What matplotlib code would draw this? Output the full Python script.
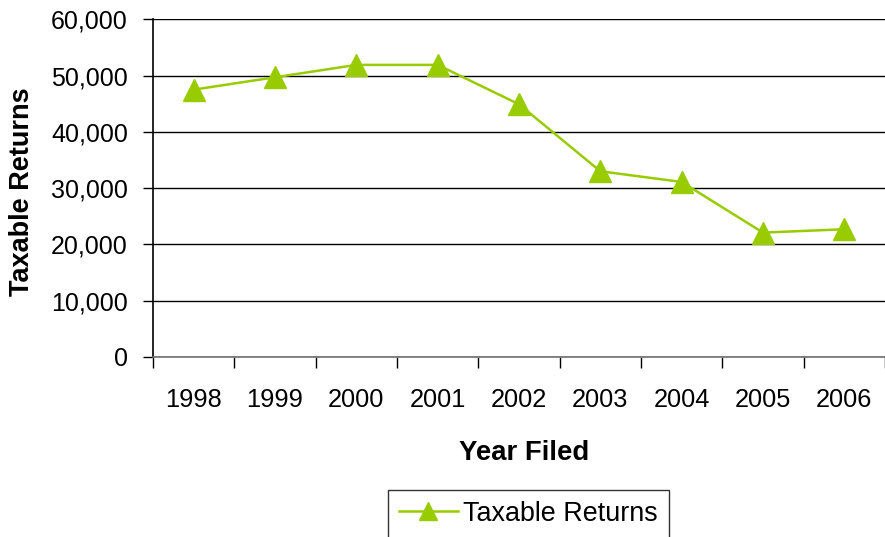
import matplotlib
matplotlib.use("Agg")
import matplotlib.pyplot as plt
from matplotlib.ticker import FuncFormatter, FixedLocator
import numpy as np

years = ["1998", "1999", "2000", "2001", "2002", "2003", "2004", "2005", "2006"]
taxable_returns = [47500, 49700, 51900, 51900, 44900, 33000, 31100, 22100, 22700]
y_ticks = [0, 10000, 20000, 30000, 40000, 50000, 60000]

plt.rcParams['font.family'] = ['Liberation Sans', 'DejaVu Sans']

W, H = 885, 537
fig = plt.figure(figsize=(W / 100, H / 100), dpi=100)
ax = fig.add_axes([153 / W, 1 - 357 / H, (W - 153) / W, (357 - 19.3) / H])

color = "#99CC00"
x = np.arange(len(years))
ax.plot(x, taxable_returns, color=color, lw=1.8, marker="^", ms=16.5,
        markeredgecolor=color, markerfacecolor=color, label="Taxable Returns",
        zorder=3, clip_on=False)

ax.set_xlim(-0.5, len(years) - 0.5)
ax.set_ylim(0, 60000)
ax.set_yticks(y_ticks)
ax.yaxis.set_major_formatter(FuncFormatter(lambda v, p: f"{int(v):,}"))
ax.grid(axis="y", color="black", lw=1.0)
ax.set_axisbelow(True)

ax.set_xticks(x)
ax.set_xticklabels(years)
ax.xaxis.set_minor_locator(FixedLocator(np.arange(-0.5, len(years), 1.0)))
ax.tick_params(axis="x", which="major", length=0, pad=22, labelsize=18.3)
ax.tick_params(axis="x", which="minor", length=8, width=1, color="black", direction="out")
ax.tick_params(axis="y", length=7, width=1, color="black", direction="out",
               labelsize=18, pad=11)

for s in ["top", "right"]:
    ax.spines[s].set_visible(False)
ax.spines["left"].set_color("black")
ax.spines["left"].set_linewidth(1.2)
ax.spines["bottom"].set_color("#707070")
ax.spines["bottom"].set_linewidth(1.2)

fig.text(524 / W, 1 - 453 / H, "Year Filed", ha="center", va="center",
         fontsize=19.8, fontweight="bold")
fig.text(22 / W, 1 - 192 / H, "Taxable Returns", ha="center", va="center",
         rotation=90, fontsize=19.5, fontweight="bold")

leg = fig.legend(loc="upper left", bbox_to_anchor=(388 / W, 1 - 490 / H),
                 frameon=True, fancybox=False, fontsize=19.4,
                 handlelength=2.2, handletextpad=0.2, borderpad=0.4,
                 borderaxespad=0, markerscale=0.75)
leg.get_frame().set_edgecolor("black")
leg.get_frame().set_linewidth(1.0)

fig.savefig("out.png", dpi=100)
